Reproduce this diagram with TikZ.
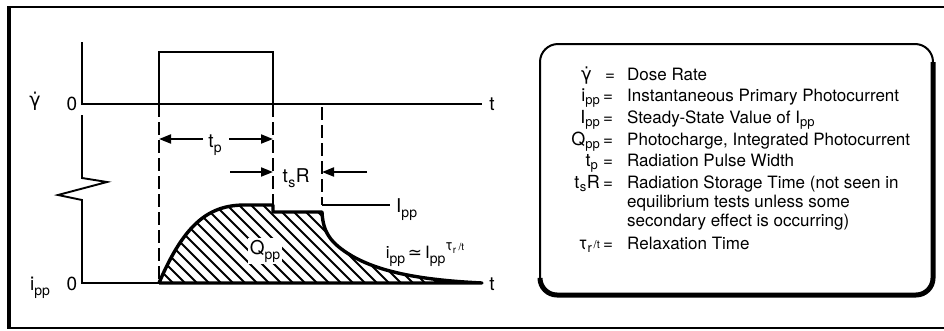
\documentclass[tikz,border=0pt]{standalone}
\usepackage{fontspec}
\setmainfont{TeX Gyre Heros}
\newfontfamily\dvs{DejaVu Sans}
\usetikzlibrary{arrows.meta}
\newcommand\gdot{{\dvs γ̇}}
\newcommand\sbx[1]{\raisebox{-5pt}{\fontsize{14}{14}\selectfont #1}}
\newcommand\sbb[1]{\raisebox{-3.5pt}{\fontsize{13}{13}\selectfont #1}}
\begin{document}
\begin{tikzpicture}[x=1pt,y=-1pt,
  lbl/.style={inner sep=0pt, font=\fontsize{17}{20}\selectfont},
  sym/.style={inner sep=0pt, font=\fontsize{18}{20}\selectfont},
  plbl/.style={inner sep=0pt, font=\fontsize{19}{21}\selectfont},
  axisline/.style={line width=1.9pt},
  dashline/.style={line width=1.9pt, dash pattern=on 13pt off 5pt},
  dimarrow/.style={line width=1.9pt, -{Triangle[length=12pt,width=9pt]}},
  hatchline/.style={line width=2pt},
  curveline/.style={line width=3.4pt, line join=round},
  thinline/.style={line width=1.4pt},
]
\useasboundingbox (0,0) rectangle (944,330);

% outer frame
\draw[line width=2.5pt] (960,7) -- (9,7);
\draw[line width=2.5pt] (9,328) -- (960,328);
\draw[line width=4pt] (9,6) -- (9,329);

% ---------- coordinates ----------
\coordinate (yatop) at (82,42);
\coordinate (ya0) at (82,104);
\coordinate (yaend) at (482,104);
\coordinate (p1) at (159,104);
\coordinate (p2) at (159,52);
\coordinate (p3) at (273,52);
\coordinate (p4) at (273,104);
\coordinate (la) at (82,115);
\coordinate (z1) at (82,178);
\coordinate (z2) at (107,182);
\coordinate (z3) at (58,195);
\coordinate (z4) at (82,200);
\coordinate (lo) at (82,283);
\coordinate (c0) at (159,283);
\coordinate (loend) at (482,283);
\coordinate (top1) at (245,205);
\coordinate (top2) at (273,205);
\coordinate (pl1) at (273,212);
\coordinate (pl2) at (322,212);
\coordinate (dc1) at (352,256);
\coordinate (d3a) at (273,104);
\coordinate (d3b) at (322,107);
\coordinate (d3c) at (322,205);
\coordinate (ippend) at (390,205);

% ---------- upper axis and pulse ----------
\draw[axisline] (yatop) -- (ya0) -- (yaend);
\draw[axisline] (p1) -- (p2) -- (p3) -- (p4);

% ---------- lower axis ----------
\draw[axisline, line join=miter] (la) -- (z1) -- (z2) -- (z3) -- (z4) -- (lo) -- (c0);

% ---------- hatched photocharge ----------
\begin{scope}
  \clip (c0) .. controls (185,222) and (210,205) .. (top1) -- (top2) -- (pl1) -- (pl2)
        .. controls (323,232) and (330,243) .. (dc1)
        .. controls (380,272) and (420,280) .. (loend) -- cycle;
  \foreach \x in {68,80,...,490} \draw[hatchline] (\x,190) -- ++(100,100);
\end{scope}
\draw[curveline] (c0) .. controls (185,222) and (210,205) .. (top1) -- (top2) -- (pl1) -- (pl2)
        .. controls (323,232) and (330,243) .. (dc1)
        .. controls (380,272) and (420,280) .. (loend) -- (c0);

% ---------- dashed guide lines ----------
\draw[dashline] (p1) -- (c0);
\draw[dashline] (d3a) -- (top2);
\draw[dashline] (d3b) -- (d3c);
\draw[thinline] (d3c) -- (ippend);

% ---------- dimension arrows ----------
\node[plbl, anchor=base] (tp) at (215,147) {t\sbx{p}};
\coordinate (tpl) at (203,139);
\coordinate (tpr) at (229,139);
\coordinate (tpa) at (159,139);
\coordinate (tpb) at (273,139);
\draw[dimarrow] (tpl) -- (tpa);
\draw[dimarrow] (tpr) -- (tpb);

\node[plbl, anchor=base] (tsr) at (296,182) {t\kern0.5pt\sbx{s}\kern0.5ptR};
\coordinate (tsl) at (230,172);
\coordinate (tsla) at (273,172);
\coordinate (tsr0) at (367,172);
\coordinate (tsra) at (322,172);
\draw[dimarrow] (tsl) -- (tsla);
\draw[dimarrow] (tsr0) -- (tsra);

% ---------- plot labels ----------
\node[plbl, anchor=base] (gl) at (35,106) {\gdot};
\node[plbl, anchor=base] (z0u) at (72,110) {0};
\node[plbl, anchor=base] (tu) at (492,110) {t};
\node[plbl, anchor=base] (il) at (40,290) {i\sbx{pp}};
\node[plbl, anchor=base] (z0l) at (72,290) {0};
\node[plbl, anchor=base] (tl) at (492,290) {t};
\node[plbl, anchor=base west] (Ipp) at (396,212) {I\sbx{pp}};
\node[plbl, anchor=base, fill=white, inner sep=1.5pt] (Qpp) at (265,254) {Q\sbx{pp}};
\node[lbl, anchor=base] (form) at (425,258) {i\sbx{pp}\,{\dvs ≃}\,I\sbx{pp}\raisebox{8pt}{\fontsize{15}{15}\selectfont τ\raisebox{-3pt}{\fontsize{10}{10}\selectfont r}\,{\fontsize{10}{10}\selectfont /t}}};

% ---------- legend box ----------
\draw[line width=2pt, rounded corners=18pt] (540,44) rectangle (933,295);
\draw[line width=5pt, rounded corners=17pt] (933,62) -- (933,295) -- (540,295) -- (540,280);

\node[sym, anchor=base east] (s1) at (592,80) {\gdot};
\node[lbl, anchor=base] (e1) at (610,80) {=};
\node[lbl, anchor=base west] (d1) at (627,80) {Dose Rate};

\node[sym, anchor=base east] (s2) at (600,101) {i\sbb{pp}};
\node[lbl, anchor=base] (e2) at (608,101) {=};
\node[lbl, anchor=base west] (d2) at (627,101) {Instantaneous Primary Photocurrent};

\node[sym, anchor=base east] (s3) at (600,123) {I\sbb{pp}};
\node[lbl, anchor=base] (e3) at (608,123) {=};
\node[lbl, anchor=base west] (d3) at (627,123) {Steady-State Value of I\sbb{pp}};

\node[sym, anchor=base east] (s4) at (600,145) {Q\sbb{pp}};
\node[lbl, anchor=base] (e4) at (608,145) {=};
\node[lbl, anchor=base west] (d4) at (627,145) {Photocharge, Integrated Photocurrent};

\node[sym, anchor=base east] (s5) at (598,166) {t\sbb{p}};
\node[lbl, anchor=base] (e5) at (608,166) {=};
\node[lbl, anchor=base west] (d5) at (627,166) {Radiation Pulse Width};

\node[sym, anchor=base east] (s6) at (600,188) {t\kern0.5pt\sbb{s}\kern0.5ptR};
\node[lbl, anchor=base] (e6) at (608,188) {=};
\node[lbl, anchor=base west] (d6) at (627,188) {Radiation Storage Time (not seen in};
\node[lbl, anchor=base west] (d6b) at (627,207) {equilibrium tests unless some};
\node[lbl, anchor=base west] (d6c) at (627,226) {secondary effect is occurring)};

\node[sym, anchor=base east] (s7) at (600,249) {τ\sbb{r}\raisebox{1pt}{\fontsize{11}{11}\selectfont\,/t}};
\node[lbl, anchor=base] (e7) at (608,249) {=};
\node[lbl, anchor=base west] (d7) at (627,249) {Relaxation Time};
\end{tikzpicture}
\end{document}
